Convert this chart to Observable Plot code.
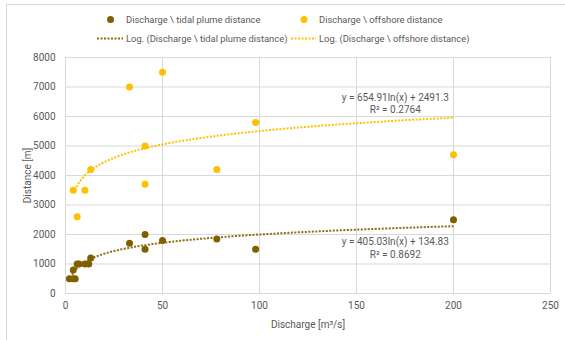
<!DOCTYPE html>
<html>
<head>
<meta charset="utf-8">
<script src="https://cdn.jsdelivr.net/npm/d3@7"></script>
<script src="https://cdn.jsdelivr.net/npm/@observablehq/plot@0.6"></script>
<style>
  html, body { margin: 0; padding: 0; background: #fff; }
  #chart { width: 565px; height: 340px; }
</style>
</head>
<body>
<div id="chart"></div>
<script>
// Data
const tidalDischarge = [2, 4, 5, 4, 6, 7, 10, 12, 13, 33, 41, 41, 50, 78, 98, 200];
const tidalDistance  = [500, 500, 500, 800, 1000, 1000, 1000, 1000, 1200, 1700, 2000, 1500, 1800, 1850, 1500, 2500];
const offDischarge = [4, 6, 10, 13, 33, 41, 41, 50, 78, 98, 200];
const offDistance  = [3500, 2600, 3500, 4200, 7000, 5000, 3700, 7500, 4200, 5800, 4700];

// Logarithmic trendline coefficients shown on the chart
const tidalFit = {a: 405.03, b: 134.83, r2: 0.8692};
const offFit = {a: 654.91, b: 2491.3, r2: 0.2764};

const xTicks = [0, 50, 100, 150, 200, 250];
const yTicks = [0, 1000, 2000, 3000, 4000, 5000, 6000, 7000, 8000];

const colTidal = "#7f6000";
const colTidalTrend = "#8c6d10";
const colOff = "#ffc000";
const textCol = "#595959";
const font = "Roboto, 'Liberation Sans', sans-serif";

const tidal = tidalDischarge.map((x, i) => ({x, y: tidalDistance[i]}));
const off = offDischarge.map((x, i) => ({x, y: offDistance[i]}));

function trend(fit, xs) {
  const lo = d3.min(xs), hi = d3.max(xs);
  return d3.range(0, 201).map(i => {
    const x = lo * Math.pow(hi / lo, i / 200);
    return {x, y: fit.a * Math.log(x) + fit.b};
  });
}
const tidalTrend = trend(tidalFit, tidalDischarge);
const offTrend = trend(offFit, offDischarge);

const equations = [
  {x: 170, y: 6460, text: `y = ${offFit.a}ln(x) + ${offFit.b}\nR² = ${offFit.r2}`},
  {x: 170, y: 1560, text: `y = ${tidalFit.a}ln(x) + ${tidalFit.b}\nR² = ${tidalFit.r2}`}
];

const dash = "2,1.5";

const svg = Plot.plot({
  width: 565,
  height: 340,
  marginLeft: 65,
  marginRight: 15,
  marginTop: 57,
  marginBottom: 47,
  style: {fontFamily: font, fontSize: "10px", color: textCol, background: "#fff"},
  x: {domain: [0, 250], ticks: xTicks, label: "Discharge [m³/s]", labelAnchor: "center", labelArrow: "none", labelOffset: 34, tickSize: 0, tickPadding: 8},
  y: {domain: [0, 8000], ticks: yTicks, tickFormat: d3.format("d"), label: "Distance [m]", labelAnchor: "center", labelArrow: "none", labelOffset: 42, tickSize: 0, tickPadding: 10},
  marks: [
    Plot.gridY(yTicks, {stroke: "#d9d9d9", strokeOpacity: 1, strokeWidth: 1}),
    Plot.gridX(xTicks, {stroke: "#d9d9d9", strokeOpacity: 1, strokeWidth: 1}),
    Plot.line(offTrend, {x: "x", y: "y", stroke: colOff, strokeWidth: 2, strokeDasharray: dash, strokeLinecap: "butt"}),
    Plot.line(tidalTrend, {x: "x", y: "y", stroke: colTidalTrend, strokeWidth: 2, strokeDasharray: dash, strokeLinecap: "butt"}),
    Plot.dot(off, {x: "x", y: "y", r: 3.5, fill: colOff, stroke: null}),
    Plot.dot(tidal, {x: "x", y: "y", r: 3.5, fill: colTidal, stroke: null}),
    Plot.text(equations, {x: "x", y: "y", text: "text", fill: textCol, fontSize: 10, lineHeight: 1.25})
  ]
});
document.getElementById("chart").appendChild(svg);

// Chart border (top & left visible in reference) and legend
const s = d3.select(svg);
s.append("line").attr("x1", 6).attr("x2", 565).attr("y1", 4.5).attr("y2", 4.5).attr("stroke", "#d9d9d9");
s.append("line").attr("x1", 6.5).attr("x2", 6.5).attr("y1", 4).attr("y2", 340).attr("stroke", "#d9d9d9");

const legend = [
  {kind: "dot", color: colTidal, cx: 110.5, cy: 19.5, tx: 126, label: "Discharge \\ tidal plume distance"},
  {kind: "dot", color: colOff, cx: 304, cy: 19.5, tx: 319, label: "Discharge \\ offshore distance"},
  {kind: "line", color: colTidalTrend, x1: 97, x2: 123, cy: 38.5, tx: 126, label: "Log. (Discharge \\ tidal plume distance)"},
  {kind: "line", color: colOff, x1: 291, x2: 316, cy: 38.5, tx: 319, label: "Log. (Discharge \\ offshore distance)"}
];
const lg = s.append("g").attr("text-anchor", "start");
legend.forEach(d => {
  if (d.kind === "dot") {
    lg.append("circle").attr("cx", d.cx).attr("cy", d.cy).attr("r", 3.5).attr("fill", d.color);
  } else {
    lg.append("line").attr("x1", d.x1).attr("x2", d.x2).attr("y1", d.cy).attr("y2", d.cy)
      .attr("stroke", d.color).attr("stroke-width", 2).attr("stroke-dasharray", dash);
  }
  lg.append("text").attr("x", d.tx).attr("y", d.cy).attr("dy", "0.35em").attr("text-anchor", "start")
    .attr("fill", textCol).attr("font-size", 9.4).attr("font-family", font).text(d.label);
});
</script>
</body>
</html>
